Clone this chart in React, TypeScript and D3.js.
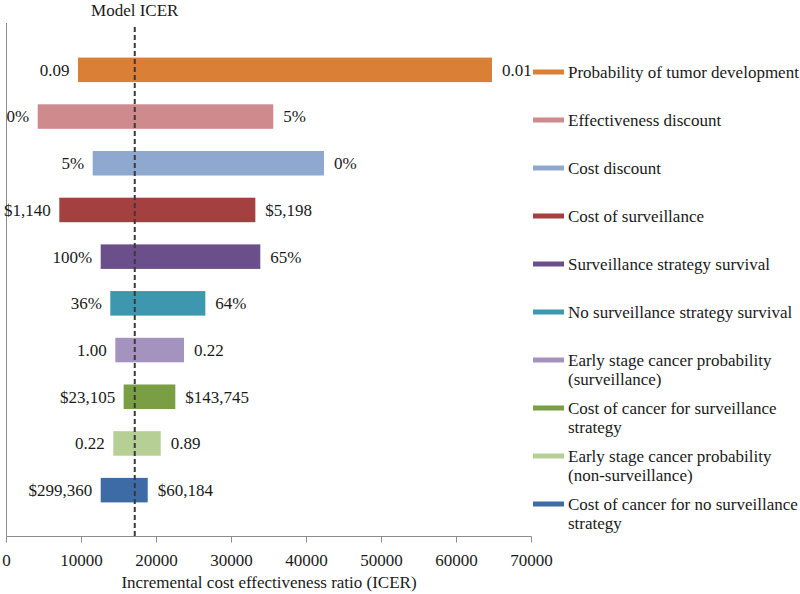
import React from "react";
import * as d3 from "d3";

const categories = [
  "Probability of tumor development",
  "Effectiveness discount",
  "Cost discount",
  "Cost of surveillance",
  "Surveillance strategy survival",
  "No surveillance strategy survival",
  "Early stage cancer probability (surveillance)",
  "Cost of cancer for surveillance strategy",
  "Early stage cancer probability (non-surveillance)",
  "Cost of cancer for no surveillance strategy",
];

const legendLines = [
  ["Probability of tumor development"],
  ["Effectiveness discount"],
  ["Cost discount"],
  ["Cost of surveillance"],
  ["Surveillance strategy survival"],
  ["No surveillance strategy survival"],
  ["Early stage cancer probability", "(surveillance)"],
  ["Cost of cancer for surveillance", "strategy"],
  ["Early stage cancer probability", "(non-surveillance)"],
  ["Cost of cancer for no surveillance", "strategy"],
];

const lowValues = [9530, 4160, 11490, 7040, 12560, 13840, 14510, 15620, 14240, 12560];
const highValues = [64730, 35570, 42330, 33180, 33840, 26510, 23670, 22510, 20560, 18830];

const lowLabels = ["0.09", "0%", "5%", "$1,140", "100%", "36%", "1.00", "$23,105", "0.22", "$299,360"];
const highLabels = ["0.01", "5%", "0%", "$5,198", "65%", "64%", "0.22", "$143,745", "0.89", "$60,184"];

const colors = [
  "#DA7F36", "#CF8A8E", "#8FA8CF", "#A4403F", "#6B4F8A",
  "#3C97AF", "#A593BF", "#7A9E44", "#B5CF95", "#3D6BA6",
];

const modelICER = 17100;
const xTicks = [0, 10000, 20000, 30000, 40000, 50000, 60000, 70000];

const W = 800;
const H = 594;
const FONT = '"Liberation Serif", "DejaVu Serif", serif';

export default function App() {
  const x = d3.scaleLinear().domain([0, 70000]).range([6.5, 531.5]);
  const y = d3
    .scaleBand<string>()
    .domain(categories)
    .range([23.5, 536.5])
    .paddingInner(0.475)
    .paddingOuter(0.73);
  const axisY = 536.5;
  const fs = 17;
  const textColor = "#1a1a1a";
  const ts = { fontFamily: FONT, fontSize: fs };

  return (
    <svg
      width={W}
      height={H}
      style={{ position: "absolute", left: 0, top: 0, background: "#fff", fontFamily: FONT }}
    >
      <rect x={0} y={0} width={W} height={H} fill="#fff" />
      <line x1={x(0)} x2={x(0)} y1={23} y2={axisY} stroke="#8c8c8c" strokeWidth={1} />
      {categories.map((c, i) => {
        const y0 = y(c) as number;
        const bh = y.bandwidth();
        const cy = y0 + bh / 2;
        return (
          <g key={c}>
            <rect
              x={x(lowValues[i])}
              y={y0}
              width={x(highValues[i]) - x(lowValues[i])}
              height={bh}
              fill={colors[i]}
            />
            <text x={x(lowValues[i]) - 8.5} y={cy} dy="0.35em" textAnchor="end" style={ts} fill={textColor}>
              {lowLabels[i]}
            </text>
            <text x={x(highValues[i]) + 10} y={cy} dy="0.35em" textAnchor="start" style={ts} fill={textColor}>
              {highLabels[i]}
            </text>
          </g>
        );
      })}
      <line
        x1={x(modelICER)}
        x2={x(modelICER)}
        y1={27}
        y2={axisY}
        stroke="#3a3a3a"
        strokeWidth={2}
        strokeDasharray="5,3"
      />
      <text x={x(modelICER)} y={10} dy="0.35em" textAnchor="middle" style={ts} fill={textColor}>
        Model ICER
      </text>
      <line x1={x(0)} x2={x(70000)} y1={axisY} y2={axisY} stroke="#8c8c8c" strokeWidth={1} />
      {xTicks.map((t) => (
        <g key={t}>
          <line x1={x(t)} x2={x(t)} y1={axisY} y2={axisY + 6} stroke="#8c8c8c" strokeWidth={1} />
          <text x={x(t)} y={560} dy="0.35em" textAnchor="middle" style={ts} fill={textColor}>
            {t}
          </text>
        </g>
      ))}
      <text x={x(35000)} y={582.5} dy="0.35em" textAnchor="middle" style={ts} fill={textColor}>
        Incremental cost effectiveness ratio (ICER)
      </text>
      {legendLines.map((lines, i) => {
        const cy = 72 + i * 48;
        return (
          <g key={i}>
            <rect x={533} y={cy - 2.5} width={31} height={5} fill={colors[i]} />
            {lines.map((ln, j) => (
              <text key={j} x={568} y={cy + j * 19.5} dy="0.35em" style={ts} fill={textColor}>
                {ln}
              </text>
            ))}
          </g>
        );
      })}
    </svg>
  );
}
